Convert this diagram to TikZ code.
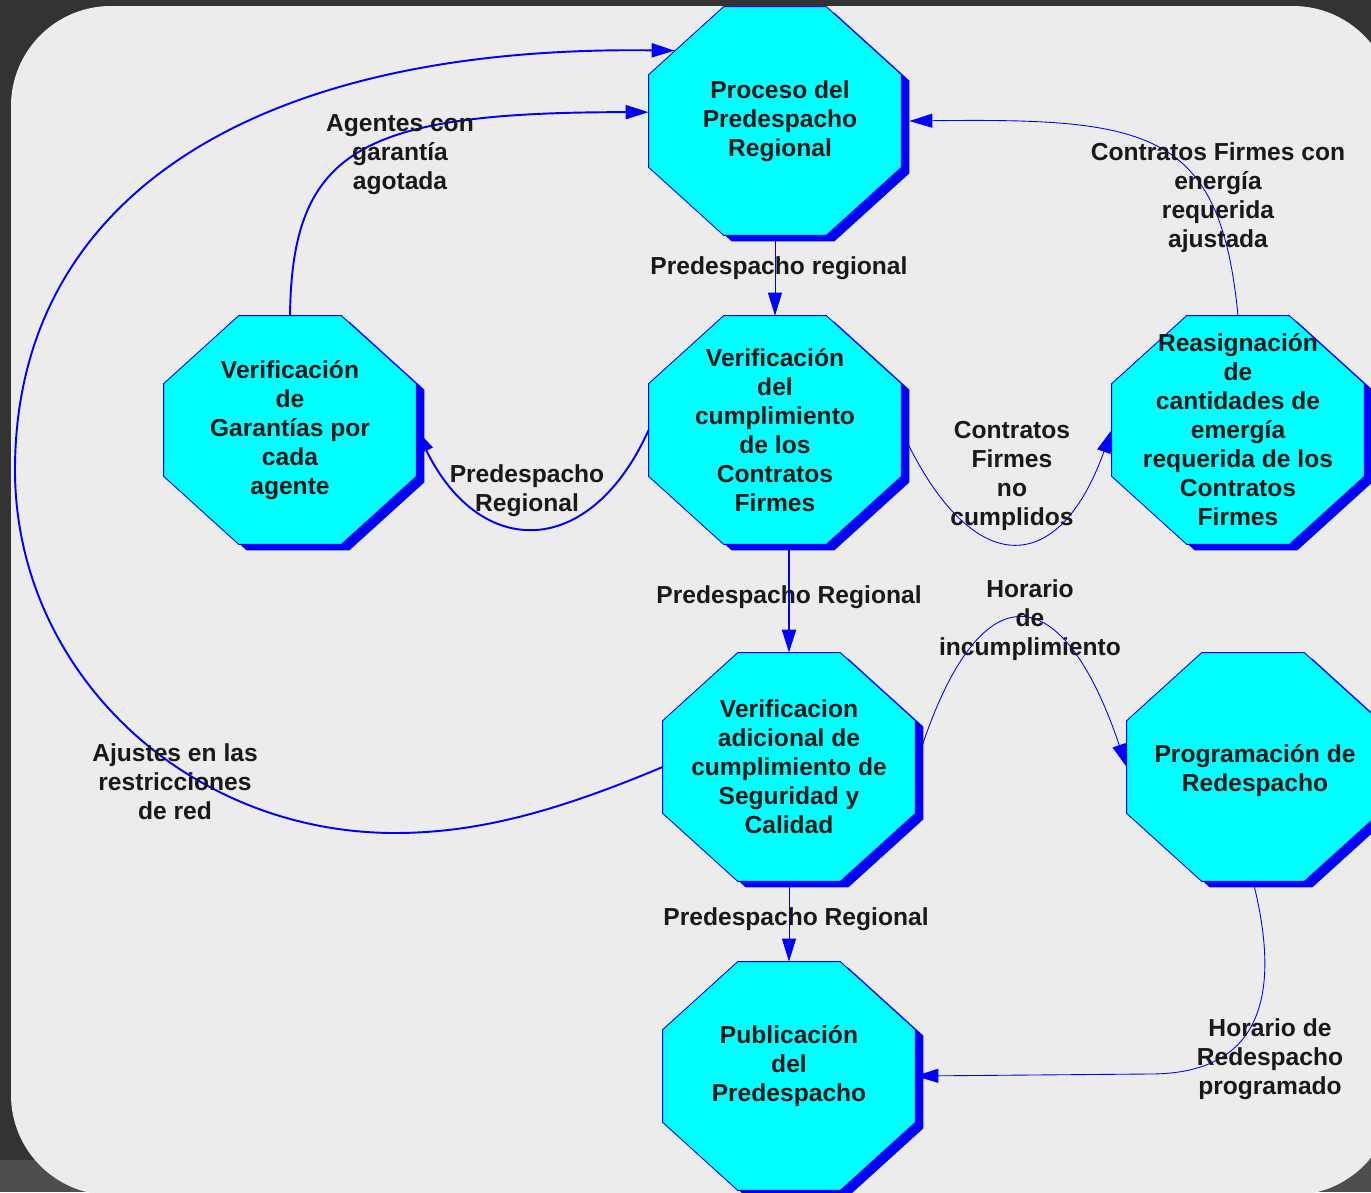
\documentclass[tikz,border=0pt]{standalone}
\usepackage{fontspec}
\setmainfont{Liberation Sans}
\usetikzlibrary{arrows.meta,calc}
\definecolor{fondo}{HTML}{333333}
\definecolor{franja}{HTML}{4E4E4E}
\definecolor{panel}{HTML}{ECECEC}
\definecolor{azul}{HTML}{0000FF}
\definecolor{cian}{HTML}{00FFFF}

\begin{document}
\begin{tikzpicture}[octbox/.style={rectangle,minimum width=5.04cm,minimum height=4.56cm,inner sep=0pt},
  octpath/.style={insert path={($(#1.north west)+(1.5,0)$) -- ($(#1.north east)+(-1.5,0)$) -- ($(#1.north east)+(0,-1.36)$) -- ($(#1.south east)+(0,1.36)$) -- ($(#1.south east)+(-1.5,0)$) -- ($(#1.south west)+(1.5,0)$) -- ($(#1.south west)+(0,1.36)$) -- ($(#1.north west)+(0,-1.36)$) -- cycle}},
  octfill/.style={fill=cian,draw=azul,line width=.5pt},
  sombra/.style={fill=azul,transform canvas={shift={(.16,-.12)}}},
  txt/.style={font=\fontsize{14}{16.5}\selectfont\bfseries,align=center,text=black!90},
  flujo/.style={draw=azul,line width=1.1pt,-{Triangle[length=.46cm,width=.28cm]}},
  flujof/.style={flujo,line width=.5pt}]
  \useasboundingbox (0,0) rectangle (27.42,-23.84);
  \clip (0,0) rectangle (27.42,-23.84);
  \fill[fondo] (0,0) rectangle (27.42,-23.84);
  \fill[franja] (0,-23.2) rectangle (27.42,-23.84);
  \fill[panel,rounded corners=2cm] (.22,-.12) rectangle (27.86,-23.9);

  \node[octbox] (proc) at (15.5,-2.42) {};
  \node[octbox] (gar) at (5.8,-8.6) {};
  \node[octbox] (cum) at (15.5,-8.6) {};
  \node[octbox] (rea) at (24.76,-8.6) {};
  \node[octbox] (adi) at (15.78,-15.34) {};
  \node[octbox] (prog) at (25.06,-15.34) {};
  \node[octbox] (pub) at (15.78,-21.52) {};
  \foreach \n in {proc,gar,cum,rea,adi,prog,pub}{
    \fill[sombra] [octpath=\n];
    \filldraw[octfill] [octpath=\n];
  }
  \node[txt] (proct) at ($(proc)+(.1,0)$) {Proceso del\\Predespacho\\Regional};
  \node[txt] (gart) at (gar) {Verificación\\de\\Garantías por\\cada\\agente};
  \node[txt] (cumt) at (cum) {Verificación\\del\\cumplimiento\\de los\\Contratos\\Firmes};
  \node[txt] (reat) at (rea) {Reasignación\\de\\cantidades de\\emergía\\requerida de los\\Contratos\\Firmes};
  \node[txt] (adit) at (adi) {Verificacion\\adicional de\\cumplimiento de\\Seguridad y\\Calidad};
  \node[txt] (progt) at ($(prog)+(.04,-.08)$) {Programación de\\Redespacho};
  \node[txt] (pubt) at ($(pub)+(0,.2)$) {Publicación\\del\\Predespacho};

  \draw[flujof] (proc.south) -- (cum.north);
  \draw[flujo] (cum.west) .. controls (11.8,-11.2) and (9.6,-11.2) .. (gar.east);
  \draw[flujo] (gar.north) .. controls (5.84,-3.0) and (7.2,-2.24) .. (proc.176);
  \draw[flujo] (adi.west) .. controls (11.2,-16.2) and (9.6,-16.66) .. (7.9,-16.66)
    .. controls (3.7,-16.66) and (.3,-13.4) .. (.3,-9.4)
    .. controls (.3,-4.0) and (5.0,-.9) .. ($(proc.north west)+(.52,-.88)$);
  \draw[flujof] (cum.east) .. controls (19.4,-11.6) and (21.16,-11.6) .. (rea.west);
  \draw[flujof] (rea.north) .. controls (24.4,-2.6) and (23.0,-2.36) .. ([xshift=.16cm]proc.east);
  \draw[flujo] (adi.north |- cum.south) -- (adi.north);
  \draw[flujof] (adi.east) .. controls (19.5,-11.4) and (21.2,-11.4) .. (prog.west);
  \draw[flujof] (adi.south) -- (pub.north);
  \draw[flujof] (prog.south) .. controls (25.56,-19.6) and (25.44,-21.48) .. (23.0,-21.48) -- (pub.east);

  \node[txt] (lprereg) at (15.58,-5.36) {Predespacho regional};
  \node[txt] (lpregar) at (10.54,-9.82) {Predespacho\\Regional};
  \node[txt] (lagentes) at (8.0,-3.1) {Agentes con\\garantía\\agotada};
  \node[txt] (lajustes) at (3.5,-15.64) {Ajustes en las\\restricciones\\de red};
  \node[txt] (lnocump) at (20.24,-9.52) {Contratos\\Firmes\\no\\cumplidos};
  \node[txt] (lajustada) at (24.36,-3.96) {Contratos Firmes con\\energía\\requerida\\ajustada};
  \node[txt] (lpreadi) at (15.78,-11.94) {Predespacho Regional};
  \node[txt] (lincump) at (20.6,-12.4) {Horario\\de\\incumplimiento};
  \node[txt] (lprepub) at (15.92,-18.38) {Predespacho Regional};
  \node[txt] (lredesp) at (25.4,-21.18) {Horario de\\Redespacho\\programado};
\end{tikzpicture}
\end{document}
